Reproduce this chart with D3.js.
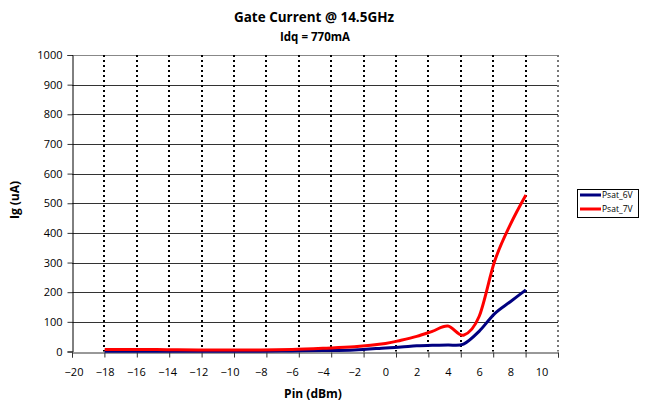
<!DOCTYPE html>
<html>
<head>
<meta charset="utf-8">
<script src="https://cdn.jsdelivr.net/npm/d3@7"></script>
<style>
  html, body { margin: 0; padding: 0; background: #fff; }
  svg { display: block; font-family: "Open Sans", "Liberation Sans", sans-serif; }
</style>
</head>
<body>
<svg id="chart" width="648" height="407"></svg>
<script>
// ---- data ----
const pinValues = [-18, -16, -14, -12, -10, -8, -6, -4, -2, 0, 1, 2, 3, 4, 5, 6, 7, 8, 9];
const psat6V   = [1, 1, 1, 1, 1, 1, 2, 3, 5, 12, 15, 19, 21, 22, 25, 68, 128, 168, 208];
const psat7V   = [7, 7, 6, 5, 5, 5, 7, 11, 16, 27, 38, 51, 68, 86, 55, 118, 305, 428, 528];
const seriesNames = ["Psat_6V", "Psat_7V"];
const seriesColors = ["#000080", "#ff0000"];
const xTicks = [-20, -18, -16, -14, -12, -10, -8, -6, -4, -2, 0, 2, 4, 6, 8, 10];
const yTicks = [0, 100, 200, 300, 400, 500, 600, 700, 800, 900, 1000];
const titleText = "Gate Current @ 14.5GHz";
const subtitleText = "Idq = 770mA";
const xTitle = "Pin (dBm)";
const yTitle = "Ig (uA)";

// ---- layout ----
const pLeft = 72, pRight = 558, pTop = 55, pBottom = 351.5;
const svg = d3.select("#chart");

// data / label scale
const x = d3.scaleLinear().domain([-20, 10]).range([73.5, 541.5]);
// gridline / tick-mark scale
const xGrid = d3.scaleLinear().domain([-20, 10]).range([pLeft, pRight]);
const y = d3.scaleLinear().domain([0, 1000]).range([pBottom, pTop]);

// horizontal gridlines
svg.append("g").selectAll("line").data(yTicks.filter(d => d > 0)).join("line")
  .attr("x1", pLeft).attr("x2", pRight)
  .attr("y1", d => Math.round(y(d)) + 0.5).attr("y2", d => Math.round(y(d)) + 0.5)
  .attr("stroke", d => d === 1000 ? "#888" : "#333").attr("stroke-width", 1);

// vertical dotted gridlines
svg.append("g").selectAll("line").data(xTicks.filter(d => d > -20)).join("line")
  .attr("x1", d => Math.round(xGrid(d))).attr("x2", d => Math.round(xGrid(d)))
  .attr("y1", pTop).attr("y2", pBottom)
  .attr("stroke", d => d === 10 ? "#777" : "#000").attr("stroke-width", 2)
  .attr("stroke-dasharray", "2,3");

// x axis tick marks (grid scale)
const xAxisTicks = d3.axisBottom(xGrid).tickValues(xTicks).tickSize(5).tickFormat("");
const gx = svg.append("g").attr("transform", `translate(0,${Math.round(pBottom) + 0.5})`).call(xAxisTicks);
gx.select(".domain").attr("stroke", "#333");
gx.selectAll(".tick line").attr("stroke", "#333");

// x axis labels (label scale)
const xAxisLabels = d3.axisBottom(x).tickValues(xTicks).tickSize(0).tickPadding(16);
const gxl = svg.append("g").attr("transform", `translate(0,${Math.round(pBottom)})`).call(xAxisLabels);
gxl.select(".domain").remove();
gxl.selectAll("text").attr("font-size", 11).attr("fill", "#000")
  .attr("font-family", "'Open Sans', sans-serif");

// y axis
const yAxis = d3.axisLeft(y).tickValues(yTicks).tickSize(5).tickPadding(5).tickFormat(d3.format("d"));
const gy = svg.append("g").attr("transform", `translate(${pLeft + 0.5},0)`).call(yAxis);
gy.select(".domain").attr("stroke", "#000");
gy.selectAll(".tick line").attr("stroke", "#333");
gy.selectAll("text").attr("font-size", 11).attr("fill", "#000")
  .attr("font-family", "'Open Sans', sans-serif");

// lines
const line = d3.line().x(d => x(d[0])).y(d => y(d[1])).curve(d3.curveCardinal.tension(0));
[psat6V, psat7V].forEach((vals, i) => {
  svg.append("path")
    .datum(pinValues.map((p, j) => [p, vals[j]]))
    .attr("d", line)
    .attr("fill", "none")
    .attr("stroke", seriesColors[i])
    .attr("stroke-width", 3)
    .attr("stroke-linejoin", "round");
});

// titles
svg.append("text").attr("x", 314).attr("y", 22).attr("text-anchor", "middle")
  .attr("font-size", 14).attr("font-weight", "bold")
  .attr("textLength", 160).attr("lengthAdjust", "spacingAndGlyphs").text(titleText);
svg.append("text").attr("x", 315).attr("y", 41).attr("text-anchor", "middle")
  .attr("font-size", 11.5).attr("font-weight", "bold")
  .attr("textLength", 70).attr("lengthAdjust", "spacingAndGlyphs").text(subtitleText);
svg.append("text").attr("x", 313).attr("y", 398).attr("text-anchor", "middle")
  .attr("font-size", 12).attr("font-weight", "bold").text(xTitle);
svg.append("text").attr("transform", "translate(19,200) rotate(-90)").attr("text-anchor", "middle")
  .attr("font-size", 12).attr("font-weight", "bold").text(yTitle);

// legend
const lg = svg.append("g");
lg.append("rect").attr("x", 577.5).attr("y", 189.5).attr("width", 61).attr("height", 28)
  .attr("fill", "#fff").attr("stroke", "#000").attr("stroke-width", 1);
seriesNames.forEach((name, i) => {
  const yy = 195 + i * 14;
  lg.append("line").attr("x1", 580).attr("x2", 601).attr("y1", yy).attr("y2", yy)
    .attr("stroke", seriesColors[i]).attr("stroke-width", 3);
  lg.append("text").attr("x", 602).attr("y", yy + 3).attr("font-size", 8.5)
    .attr("fill", "#000").text(name);
});
</script>
</body>
</html>
